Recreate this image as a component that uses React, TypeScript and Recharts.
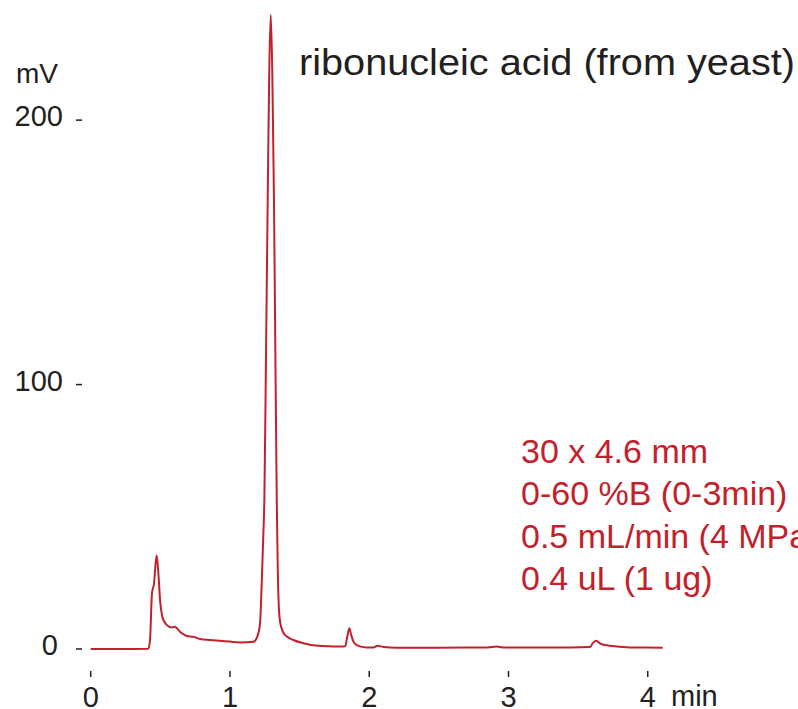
import React from 'react';
import { LineChart, Line, XAxis, YAxis } from 'recharts';

// retention time (min) and detector signal (mV)
const times = [
  0, 0.2, 0.414, 0.426, 0.44, 0.455, 0.464, 0.474, 0.486, 0.498, 0.514, 0.53, 0.546,
  0.582, 0.6, 0.613, 0.641, 0.665, 0.689, 0.737, 0.785, 0.857, 0.929, 1.0, 1.072,
  1.168, 1.196, 1.216, 1.228, 1.24, 1.247, 1.259, 1.271, 1.282, 1.293, 1.304, 1.316,
  1.326, 1.336, 1.343, 1.352, 1.364, 1.395, 1.455, 1.527, 1.634, 1.72, 1.8, 1.827,
  1.842, 1.857, 1.87, 1.885, 1.91, 1.98, 2.03, 2.06, 2.1, 2.2, 2.5, 2.85, 2.916, 2.96,
  3.3, 3.586, 3.605, 3.629, 3.66, 3.729, 3.872, 4.108,
];
const signal = [
  0, 0, 0.1, 3.4, 21.1, 24.9, 31.1, 35.4, 28.6, 18.5, 12.2, 10.2, 9.1,
  8.1, 8.4, 8.2, 6.5, 5.6, 4.9, 4.6, 3.8, 3.4, 3.1, 2.8, 2.5,
  2.7, 4.7, 9.7, 24.9, 43.8, 56.4, 112, 169.8, 218, 239.8, 218, 169.8,
  112, 56.4, 31.1, 14.8, 9.1, 5.3, 3.4, 2.2, 1.2, 1.0, 0.9, 1.0,
  4.6, 7.8, 5.4, 3.0, 1.5, 0.6, 0.6, 1.2, 0.8, 0.5, 0.5, 0.6, 0.9, 0.6,
  0.6, 0.8, 2.2, 3.1, 2.0, 1.2, 0.6, 0.5,
];

const xTicks = [0, 1, 2, 3, 4];
const yTicks = [0, 100, 200];

const title = 'ribonucleic acid (from yeast)';
const conditions = ['30 x 4.6 mm', '0-60 %B (0-3min)', '0.5 mL/min (4 MPa)', '0.4 uL (1 ug)'];

const data = times.map((t, i) => ({ t, mv: signal[i] }));

const FONT = '"Liberation Sans", Arial, Helvetica, sans-serif';
const INK = '#231f20';
const RED = '#c4202b';

function YTick(props: any) {
  const { x, y, payload } = props;
  const shift = payload.value === 0 ? -5 : 0;
  return (
    <text x={x + shift} y={y - 4} dy="0.355em" textAnchor="end" fill={INK} fontSize={29} fontFamily={FONT}>
      {payload.value}
    </text>
  );
}

export default function App() {
  return (
    <div style={{ position: 'absolute', left: 0, top: 0, width: 798, height: 709, background: '#fff' }}>
      <LineChart
        width={798}
        height={709}
        data={data}
        margin={{ top: 8, right: 38, bottom: 0, left: 0 }}
        style={{ fontFamily: FONT }}
      >
        <XAxis
          dataKey="t"
          type="number"
          domain={[-0.0625, 4.806]}
          ticks={xTicks}
          allowDataOverflow
          axisLine={false}
          tickLine={{ stroke: INK, strokeWidth: 1.5 }}
          tickSize={6}
          tickMargin={9}
          height={38}
          tick={{ fill: INK, fontSize: 29 }}
        />
        <YAxis
          type="number"
          domain={[-8.32, 242.4]}
          ticks={yTicks}
          allowDataOverflow
          axisLine={false}
          tickLine={{ stroke: INK, strokeWidth: 1.5 }}
          tickSize={6}
          tickMargin={13}
          width={82}
          tick={<YTick />}
        />
        <Line
          type="monotone"
          dataKey="mv"
          stroke={RED}
          strokeWidth={2}
          dot={false}
          isAnimationActive={false}
        />
      </LineChart>
      <svg
        width={798}
        height={709}
        style={{ position: 'absolute', left: 0, top: 0, pointerEvents: 'none' }}
        fontFamily={FONT}
      >
        <text x={16} y={83} fontSize={28} fill={INK}>mV</text>
        <text x={299} y={75} fontSize={36} fill={INK} textLength={496} lengthAdjust="spacingAndGlyphs">
          {title}
        </text>
        {conditions.map((line, i) => (
          <text key={line} x={521} y={463 + i * 42.4} fontSize={34} fill={RED}>
            {line}
          </text>
        ))}
        <text x={671} y={706} fontSize={29} fill={INK}>min</text>
      </svg>
    </div>
  );
}
